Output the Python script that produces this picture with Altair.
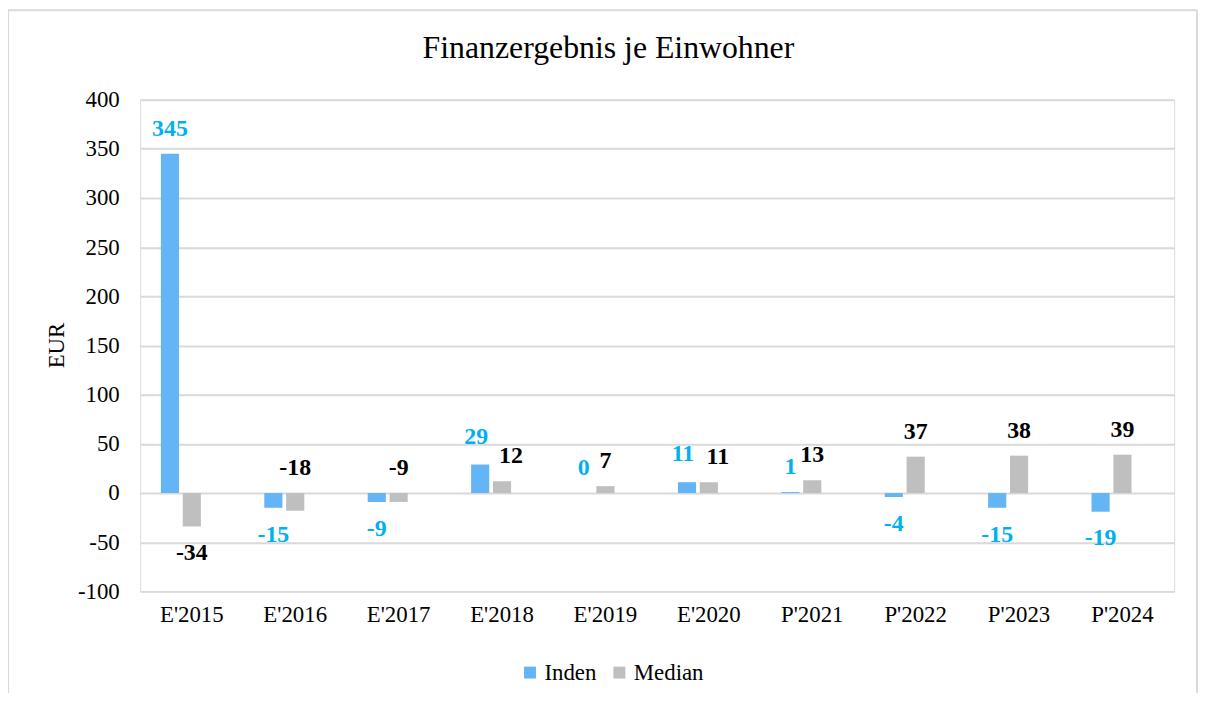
import altair as alt
import pandas as pd

categories = ["E'2015", "E'2016", "E'2017", "E'2018", "E'2019",
              "E'2020", "P'2021", "P'2022", "P'2023", "P'2024"]
inden = [345, -15, -9, 29, 0, 11, 1, -4, -15, -19]
median = [-34, -18, -9, 12, 7, 11, 13, 37, 38, 39]
series_names = ["Inden", "Median"]
bar_colors = ["#64B5F6", "#BFBFBF"]
median_labels_above_zero = ["E'2016", "E'2017"]

rows = []
for c, v in zip(categories, inden):
    rows.append({"cat": c, "series": "Inden", "value": v})
for c, v in zip(categories, median):
    rows.append({"cat": c, "series": "Median", "value": v})
df = pd.DataFrame(rows)
df["above"] = (df["value"] >= 0) | ((df["series"] == "Median") & df["cat"].isin(median_labels_above_zero))
df["anchor"] = [v if (v >= 0 or not a) else 0 for v, a in zip(df["value"], df["above"])]
df["label"] = df["value"].astype(str)
# push apart neighbouring labels that both sit above the bars and are wide
wide_pair = {}
for c in categories:
    sub = df[df["cat"] == c]
    wide_pair[c] = bool(sub["above"].all() and (sub["label"].str.len() >= 2).all())
df["spread"] = df["cat"].map(wide_pair)

FONT = "Liberation Serif"

x = alt.X("cat:N", sort=categories,
          scale=alt.Scale(paddingInner=0.366, paddingOuter=0.183),
          axis=alt.Axis(title=None, labelAngle=0, labelFontSize=23, labelFont=FONT,
                        labelColor="black", domain=False, ticks=False, labelPadding=12,
                        grid=False))
xoff = alt.XOffset("series:N",
                   scale=alt.Scale(domain=["Inden", "Median", "_"], paddingInner=0.17, paddingOuter=0.085))

yscale = alt.Scale(domain=[-100, 400], nice=False, zero=False)

base = alt.Chart(df)

bars = base.mark_bar().encode(
    x=x,
    xOffset=xoff,
    y=alt.Y("value:Q", scale=yscale,
            axis=alt.Axis(title="EUR", values=list(range(-100, 401, 50)),
                          labelExpr="datum.value + ''",
                          labelFontSize=23, labelFont=FONT, labelColor="black",
                          labelPadding=21, domain=False, ticks=False,
                          grid=True, gridColor="#D9D9D9", gridWidth=2,
                          titleFont=FONT, titleFontSize=23, titleFontWeight="normal",
                          titleColor="black", titleAngle=270, titleX=-84, titleY=247,
                          titleAlign="center", titleBaseline="middle")),
    color=alt.Color("series:N",
                    scale=alt.Scale(domain=series_names, range=bar_colors),
                    legend=alt.Legend(title=None, orient="none", legendX=381, legendY=565,
                                      direction="horizontal", symbolType="square",
                                      symbolSize=144, symbolStrokeWidth=0,
                                      labelFont=FONT, labelFontSize=23, labelColor="black",
                                      columnPadding=11, labelOffset=3)),
)

text_color = alt.condition("datum.series == 'Inden'", alt.value("#00B0F0"), alt.value("black"))


def label_layer(filt, dy, dx=0):
    return base.transform_filter(filt).mark_text(
        font=FONT, fontSize=24, fontWeight="bold", baseline="middle", align="center",
        dy=dy, dx=dx
    ).encode(x=x, xOffset=xoff, y=alt.Y("anchor:Q", scale=yscale),
             text="label:N", color=text_color)


labels = [
    label_layer("datum.above && !datum.spread", -25),
    label_layer("datum.above && datum.spread && datum.series == 'Inden'", -28, -4),
    label_layer("datum.above && datum.spread && datum.series == 'Median'", -25, 9),
    label_layer("!datum.above", 27),
]

frame_data = pd.DataFrame({"k": [0]})
frame_style = dict(color="#D9D9D9", strokeWidth=2)
frame_top = alt.Chart(frame_data).mark_rule(**frame_style).encode(
    x=alt.value(-133), x2=alt.value(1064), y=alt.value(-90))
frame_left = alt.Chart(frame_data).mark_rule(**frame_style).encode(
    x=alt.value(-133), y=alt.value(-90), y2=alt.value(620))
frame_right = alt.Chart(frame_data).mark_rule(**frame_style).encode(
    x=alt.value(1064), y=alt.value(-90), y2=alt.value(620))

chart = alt.layer(frame_top, frame_left, frame_right, bars, *labels).properties(
    width=1041, height=495,
    title=alt.Title("Finanzergebnis je Einwohner", font=FONT, fontSize=32,
                    fontWeight="normal", color="black", dx=-49, offset=-56),
    autosize=alt.AutoSizeParams(type="none"),
    padding={"left": 133, "top": 90, "right": 24, "bottom": 100},
).configure_view(stroke=None).configure(font=FONT)

chart.save("out.html", embed_options={"renderer": "svg", "actions": False})
